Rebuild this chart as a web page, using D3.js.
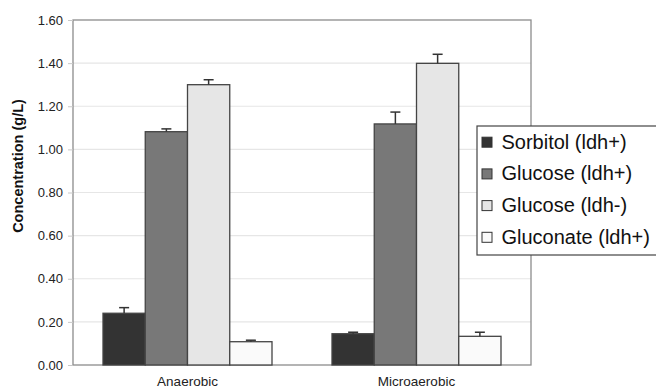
<!DOCTYPE html>
<html><head><meta charset="utf-8">
<script src="https://cdn.jsdelivr.net/npm/d3@7"></script>
<style>
html,body{margin:0;padding:0;background:#fff;}
svg{display:block;font-family:Arial,"Liberation Sans",sans-serif;}
</style></head>
<body>
<svg id="chart" width="656" height="391"></svg>
<script>
const categories = ["Anaerobic", "Microaerobic"];
const seriesNames = ["Sorbitol (ldh+)", "Glucose (ldh+)", "Glucose (ldh-)", "Gluconate (ldh+)"];
const seriesColors = ["#333333", "#787878", "#e6e6e6", "#fafafa"];
const sorbitolLdhPlus = [0.24, 0.145];
const glucoseLdhPlus = [1.082, 1.118];
const glucoseLdhMinus = [1.300, 1.399];
const gluconateLdhPlus = [0.108, 0.133];
const sorbitolErr = [0.026, 0.007];
const glucosePlusErr = [0.013, 0.055];
const glucoseMinusErr = [0.023, 0.042];
const gluconateErr = [0.007, 0.019];
const yTicks = [0, 0.2, 0.4, 0.6, 0.8, 1.0, 1.2, 1.4, 1.6];

const values = [sorbitolLdhPlus, glucoseLdhPlus, glucoseLdhMinus, gluconateLdhPlus];
const errors = [sorbitolErr, glucosePlusErr, glucoseMinusErr, gluconateErr];

const svg = d3.select("#chart");
const L = 73, R = 531, T = 20, B = 365;

const x0 = d3.scaleBand().domain(categories).range([L, R]).paddingInner(0.262).paddingOuter(0.131);
const x1 = d3.scaleBand().domain(seriesNames).range([0, x0.bandwidth()]).padding(0);
const y = d3.scaleLinear().domain([0, 1.6]).range([B, T]);

// gridlines
svg.append("g").selectAll("line").data(yTicks.filter(d => d > 0 && d < 1.6)).join("line")
  .attr("x1", L).attr("x2", R).attr("y1", d => y(d)).attr("y2", d => y(d))
  .attr("stroke", "#e6e6e6").attr("stroke-width", 1.2);

// plot frame
svg.append("rect").attr("x", L).attr("y", T).attr("width", R - L).attr("height", B - T)
  .attr("fill", "none").attr("stroke", "#8c8c8c").attr("stroke-width", 1.3);

// y axis
const yAxis = d3.axisLeft(y).tickValues(yTicks).tickFormat(d3.format(".2f")).tickSize(5).tickPadding(5);
const ga = svg.append("g").attr("transform", `translate(${L},0)`).call(yAxis);
ga.select(".domain").remove();
ga.selectAll(".tick line").attr("stroke", "#c8c8c8");
ga.selectAll(".tick text").attr("fill", "#222").style("font-size", "13px").style("font-family", "Arial, 'Liberation Sans', sans-serif");

// y title
svg.append("text").attr("transform", "translate(23,166) rotate(-90)")
  .attr("text-anchor", "middle").attr("fill", "#111")
  .style("font-size", "14.5px").style("font-weight", "bold").text("Concentration (g/L)");

// x labels
const xAxis = d3.axisBottom(x0).tickSize(0).tickPadding(11);
const gx = svg.append("g").attr("transform", `translate(0,${B})`).call(xAxis);
gx.select(".domain").remove();
gx.selectAll(".tick text").attr("fill", "#222").style("font-size", "13.5px").style("font-family", "Arial, 'Liberation Sans', sans-serif");

// bars
const data = [];
categories.forEach((c, ci) => seriesNames.forEach((s, si) => data.push({c, s, si, v: values[si][ci], e: errors[si][ci]})));

const bars = svg.append("g");
bars.selectAll("rect").data(data).join("rect")
  .attr("x", d => x0(d.c) + x1(d.s))
  .attr("y", d => y(d.v))
  .attr("width", x1.bandwidth())
  .attr("height", d => y(0) - y(d.v))
  .attr("fill", d => seriesColors[d.si])
  .attr("stroke", "#444").attr("stroke-width", 1.3);

// error bars (upper only)
const eg = svg.append("g").attr("stroke", "#333").attr("stroke-width", 1.5);
eg.selectAll("line.v").data(data).join("line").attr("class", "v")
  .attr("x1", d => x0(d.c) + x1(d.s) + x1.bandwidth() / 2)
  .attr("x2", d => x0(d.c) + x1(d.s) + x1.bandwidth() / 2)
  .attr("y1", d => y(d.v)).attr("y2", d => y(d.v + d.e));
eg.selectAll("line.cap").data(data).join("line").attr("class", "cap")
  .attr("x1", d => x0(d.c) + x1(d.s) + x1.bandwidth() / 2 - 5)
  .attr("x2", d => x0(d.c) + x1(d.s) + x1.bandwidth() / 2 + 5)
  .attr("y1", d => y(d.v + d.e)).attr("y2", d => y(d.v + d.e));

// legend
const lg = svg.append("g").attr("transform", "translate(477,126)");
lg.append("rect").attr("x", 0).attr("y", 0).attr("width", 200).attr("height", 129)
  .attr("fill", "#fff").attr("stroke", "#444").attr("stroke-width", 1.2);
const items = lg.selectAll("g.item").data(seriesNames).join("g").attr("class", "item")
  .attr("transform", (d, i) => `translate(0,${15.7 + i * 31.7})`);
items.append("rect").attr("x", 5).attr("y", -4.5).attr("width", 10).attr("height", 10)
  .attr("fill", (d, i) => seriesColors[i]).attr("stroke", "#333").attr("stroke-width", 1);
items.append("text").attr("x", 24.5).attr("y", 0).attr("dy", "0.35em")
  .attr("fill", "#111").style("font-size", "20px").text(d => d);
</script>
</body></html>
